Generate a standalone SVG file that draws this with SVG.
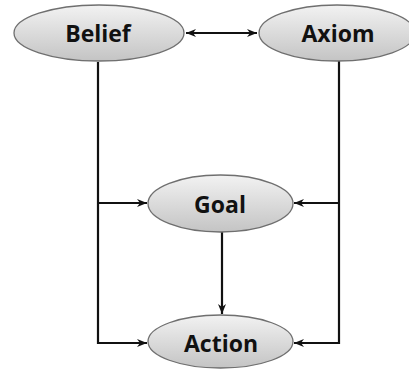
<svg xmlns="http://www.w3.org/2000/svg" width="409" height="369" viewBox="0 0 409 369">
<style>
.node ellipse{fill:url(#g);stroke:#6f6f6f;stroke-width:1.3}
.node text{font-family:"Open Sans","Liberation Sans",sans-serif;font-weight:bold;font-size:23px;fill:#111;text-anchor:middle}
.conn path,.conn line{fill:none;stroke:#111;stroke-width:2.2}
</style>
<defs>
<linearGradient id="g" x1="0" y1="0" x2="0" y2="1">
<stop offset="0" stop-color="#f2f2f2"/>
<stop offset="1" stop-color="#c4c4c4"/>
</linearGradient>
<marker id="ah" viewBox="0 0 10 10" refX="10" refY="5" markerWidth="10" markerHeight="10" markerUnits="userSpaceOnUse" orient="auto-start-reverse">
<path d="M0,1 L10,5 L0,9 L3,5 Z" fill="#111"/>
</marker>
</defs>
<g class="conn">
<line x1="186" y1="33" x2="257" y2="33" marker-start="url(#ah)" marker-end="url(#ah)"/>
<path d="M98,62 V343 H147" marker-end="url(#ah)"/>
<path d="M98,203 H147" marker-end="url(#ah)"/>
<path d="M339,61 V343 H294" marker-end="url(#ah)"/>
<path d="M339,203 H294" marker-end="url(#ah)"/>
<path d="M222,232 V314" marker-end="url(#ah)"/>
</g>
<g id="belief" class="node"><ellipse cx="99" cy="33" rx="85" ry="28"/><text x="98" y="42">Belief</text></g>
<g id="axiom" class="node"><ellipse cx="337" cy="33" rx="78" ry="28"/><text x="338" y="42">Axiom</text></g>
<g id="goal" class="node"><ellipse cx="220.5" cy="203.5" rx="72.5" ry="28.5"/><text x="220" y="213">Goal</text></g>
<g id="action" class="node"><ellipse cx="220.5" cy="341.5" rx="72.5" ry="26.5"/><text x="221" y="352">Action</text></g>
</svg>
